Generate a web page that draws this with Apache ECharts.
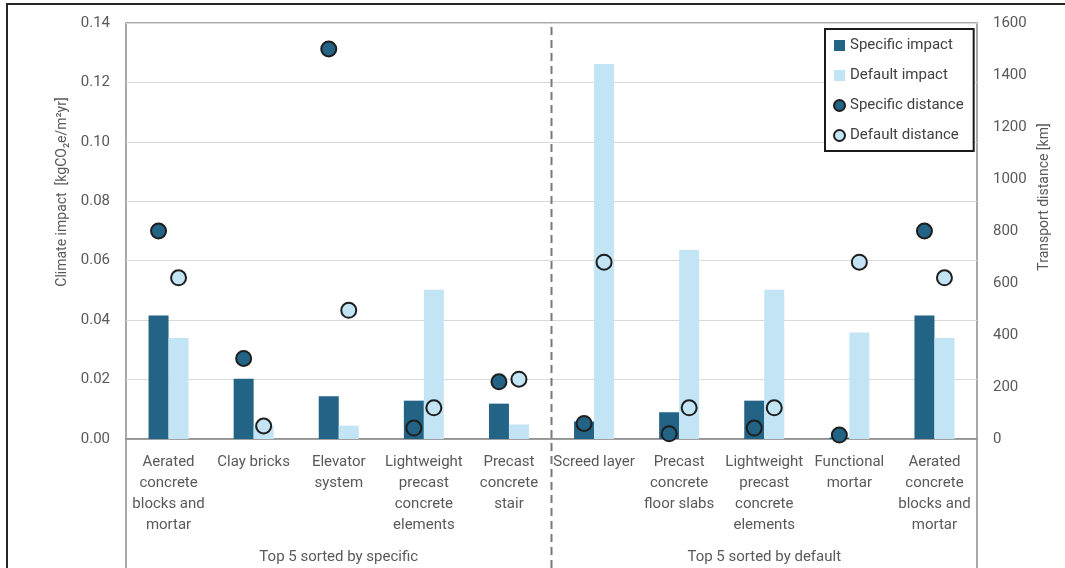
<!DOCTYPE html>
<html>
<head>
<meta charset="utf-8">
<script src="https://cdn.jsdelivr.net/npm/echarts@6/dist/echarts.min.js"></script>
<style>
  html, body { margin: 0; padding: 0; background: #ffffff; }
  #chart { width: 1065px; height: 568px; }
</style>
</head>
<body>
<div id="chart"></div>
<script>
// Materials, in the order they appear along the category axis
const categories = [
  'Aerated\nconcrete\nblocks and\nmortar',
  'Clay bricks',
  'Elevator\nsystem',
  'Lightweight\nprecast\nconcrete\nelements',
  'Precast\nconcrete\nstair',
  'Screed layer',
  'Precast\nconcrete\nfloor slabs',
  'Lightweight\nprecast\nconcrete\nelements',
  'Functional\nmortar',
  'Aerated\nconcrete\nblocks and\nmortar'
];
const groups = ['Top 5 sorted by specific', 'Top 5 sorted by default'];

// Climate impact [kgCO2e/m2yr]
const specificImpact = [0.0416, 0.0203, 0.0144, 0.0129, 0.0119, 0.0059, 0.0090, 0.0129, 0.0005, 0.0416];
const defaultImpact  = [0.0340, 0.0045, 0.0045, 0.0502, 0.0049, 0.1262, 0.0636, 0.0502, 0.0358, 0.0340];

// Transport distance [km]
const specificDistance = [800, 310, 1500, 42, 220, 60, 20, 42, 15, 800];
const defaultDistance  = [620, 50, 495, 120, 230, 680, 120, 120, 680, 620];

// Axis scales
const impactAxis = { min: 0, max: 0.14, interval: 0.02 };
const distanceAxis = { min: 0, max: 1600, interval: 200 };

const W = 1065, H = 568;
const grid = { left: 126, right: 88, top: 23, bottom: 129 };
const plotL = grid.left, plotR = W - grid.right, plotT = grid.top, plotB = H - grid.bottom;

const FONT = 'Roboto';
const DARK = '#236385';
const LIGHT = '#c2e4f4';
const RING = '#1e1e1e';
const LABEL = '#595959';
const FRAME = '#8c8c8c';

const chart = echarts.init(document.getElementById('chart'), null, { renderer: 'canvas' });

const option = {
  animation: false,
  backgroundColor: '#ffffff',
  textStyle: { fontFamily: FONT },
  grid: Object.assign({ show: true, borderColor: FRAME, borderWidth: 1.5 }, grid),
  legend: {
    orient: 'vertical',
    left: 825,
    top: 29,
    padding: [9, 10, 8, 8],
    itemGap: 15,
    itemWidth: 11,
    itemHeight: 11,
    borderColor: '#1a1a1a',
    borderWidth: 2,
    backgroundColor: '#ffffff',
    textStyle: { fontFamily: FONT, fontSize: 15, color: '#404040', lineHeight: 15 },
    data: [
      { name: 'Specific impact', icon: 'rect' },
      { name: 'Default impact', icon: 'rect' },
      { name: 'Specific distance', icon: 'circle' },
      { name: 'Default distance', icon: 'circle' }
    ]
  },
  xAxis: [
    {
      type: 'category',
      data: categories,
      axisLine: { lineStyle: { color: FRAME, width: 1.5 } },
      axisTick: { show: false },
      axisLabel: { interval: 0, color: LABEL, fontSize: 15, lineHeight: 21, margin: 13, fontFamily: FONT }
    },
    {
      type: 'category',
      data: groups,
      position: 'bottom',
      axisLine: { show: false },
      axisTick: { show: false },
      splitLine: { show: false },
      axisLabel: { interval: 0, color: LABEL, fontSize: 15, margin: 111, fontFamily: FONT }
    }
  ],
  yAxis: [
    {
      type: 'value',
      position: 'left',
      min: impactAxis.min,
      max: impactAxis.max,
      interval: impactAxis.interval,
      name: 'Climate impact  [kgCO\u2082e/m\u00b2yr]',
      nameLocation: 'middle',
      nameRotate: 90,
      nameGap: 52,
      nameTextStyle: { color: LABEL, fontSize: 14, fontFamily: FONT, padding: [0, 0, 0, 78] },
      axisLine: { show: false },
      axisTick: { show: false },
      axisLabel: { color: LABEL, fontSize: 15, margin: 16, fontFamily: FONT, formatter: v => v.toFixed(2) },
      splitLine: { lineStyle: { color: '#d9d9d9', width: 1 } }
    },
    {
      type: 'value',
      position: 'right',
      min: distanceAxis.min,
      max: distanceAxis.max,
      interval: distanceAxis.interval,
      name: 'Transport distance [km]',
      nameLocation: 'middle',
      nameRotate: 90,
      nameGap: 58,
      nameTextStyle: { color: LABEL, fontSize: 14, fontFamily: FONT, padding: [0, 0, 0, 68] },
      axisLine: { show: false },
      axisTick: { show: false },
      axisLabel: { color: LABEL, fontSize: 15, margin: 16, fontFamily: FONT, formatter: v => String(v) },
      splitLine: { show: false }
    }
  ],
  series: [
    {
      name: 'Specific impact',
      type: 'bar',
      data: specificImpact,
      barWidth: 20,
      barGap: '0%',
      itemStyle: { color: DARK }
    },
    {
      name: 'Default impact',
      type: 'bar',
      data: defaultImpact,
      barWidth: 20,
      barGap: '0%',
      itemStyle: { color: LIGHT }
    },
    {
      name: 'Specific distance',
      type: 'scatter',
      yAxisIndex: 1,
      data: specificDistance,
      symbol: 'circle',
      symbolSize: 15,
      symbolOffset: [-10, 0],
      z: 3,
      itemStyle: { color: DARK, borderColor: RING, borderWidth: 2, opacity: 1 }
    },
    {
      name: 'Default distance',
      type: 'scatter',
      yAxisIndex: 1,
      data: defaultDistance,
      symbol: 'circle',
      symbolSize: 15,
      symbolOffset: [10, 0],
      z: 3,
      itemStyle: { color: LIGHT, borderColor: RING, borderWidth: 2, opacity: 1 }
    }
  ],
  graphic: [
    // figure frame
    {
      type: 'rect',
      silent: true,
      shape: { x: 7, y: 4, width: W + 20, height: H + 20 },
      style: { fill: null, stroke: '#262626', lineWidth: 2 }
    },
    // outer boundaries of the category label area
    {
      type: 'line',
      silent: true,
      shape: { x1: plotL, y1: plotB, x2: plotL, y2: H },
      style: { stroke: FRAME, lineWidth: 1.5 }
    },
    {
      type: 'line',
      silent: true,
      shape: { x1: plotR, y1: plotB, x2: plotR, y2: H },
      style: { stroke: FRAME, lineWidth: 1.5 }
    },
    // divider between the two groups
    {
      type: 'line',
      silent: true,
      z: 1,
      shape: { x1: (plotL + plotR) / 2, y1: plotT + 4, x2: (plotL + plotR) / 2, y2: H },
      style: { stroke: '#7a7a7a', lineWidth: 2, lineDash: [8, 5] }
    }
  ]
};

chart.setOption(option);
</script>
</body>
</html>
